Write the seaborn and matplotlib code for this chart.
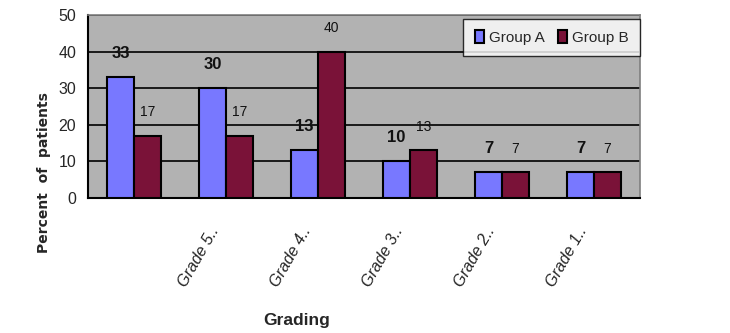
import matplotlib
matplotlib.use("Agg")
import matplotlib.pyplot as plt
import matplotlib.transforms as mtransforms
import seaborn as sns
import pandas as pd

categories = ["", "Grade 5..", "Grade 4..", "Grade 3..", "Grade 2..", "Grade 1.."]
group_a = [33, 30, 13, 10, 7, 7]
group_b = [17, 17, 40, 13, 7, 7]
series_names = ["Group A", "Group B"]
colors = ["#7878FF", "#7A1238"]

sns.set_style("white")
plt.rcParams['font.family'] = ['Liberation Sans Narrow', 'Liberation Sans', 'DejaVu Sans']

df = pd.DataFrame({
    "cat": list(range(len(categories))) * 2,
    "val": group_a + group_b,
    "grp": [series_names[0]] * len(categories) + [series_names[1]] * len(categories),
})

fig = plt.figure(figsize=(7.3, 3.33), dpi=100)
ax = fig.add_axes([88 / 730, 1 - 198 / 333, (640 - 88) / 730, (198 - 15) / 333])
ax.set_facecolor("#B2B2B2")

sns.barplot(data=df, x="cat", y="val", hue="grp", palette=colors, width=0.58,
            edgecolor="black", linewidth=1.5, ax=ax, zorder=3, saturation=1)

ax.set_ylim(0, 50)
ax.set_xlim(-0.5, len(categories) - 0.5)
ax.set_yticks(range(0, 51, 10))
ax.yaxis.grid(True, color="black", linewidth=1.2, zorder=0)
ax.set_axisbelow(True)

# value labels
for container, small in zip(ax.containers, [False, True]):
    for bar in container:
        h = bar.get_height()
        ax.text(bar.get_x() + bar.get_width() / 2, h + 4.5, f"{int(h)}",
                ha="center", va="bottom",
                fontsize=10 if small else 12,
                fontweight="normal" if small else "bold", color="#111111")

# ticks
ax.set_xticks(range(len(categories)))
ax.set_xticklabels(categories, rotation=60, ha="right", rotation_mode="anchor",
                   fontstyle="italic", fontsize=11.5)
ax.set_xticks([i - 0.5 for i in range(len(categories) + 1)], minor=True)
ax.tick_params(axis="x", which="major", length=0, pad=19)
ax.tick_params(axis="x", which="minor", length=5, width=1, color="black", direction="out")
ax.tick_params(axis="y", length=5, width=1, color="black", direction="out", labelsize=11.5)
offset = mtransforms.ScaledTranslation(-0.17, 0, fig.dpi_scale_trans)
for lbl in ax.get_xticklabels():
    lbl.set_transform(lbl.get_transform() + offset)

for s in ["left", "bottom"]:
    ax.spines[s].set_color("black")
    ax.spines[s].set_linewidth(1.5)
for s in ["top", "right"]:
    ax.spines[s].set_color("#7F7F7F")
    ax.spines[s].set_linewidth(1.2)

ax.set_xlabel("")
ax.set_ylabel("Percent  of  patients", fontsize=10, fontweight="bold",
              family=["DejaVu Sans"])
ax.yaxis.set_label_coords(-0.067, 0.14)

fig.text(297 / 730, 1 - 320 / 333, "Grading", ha="center", va="center",
         fontsize=12.5, fontweight="bold")

leg = ax.legend(loc="upper right", bbox_to_anchor=(1.0, 0.98), ncol=2,
                frameon=True, fancybox=False, edgecolor="black", fontsize=11,
                handlelength=0.6, handleheight=0.9, columnspacing=0.9,
                handletextpad=0.3, borderpad=0.75, borderaxespad=0)
leg.get_frame().set_facecolor("white")
leg.get_frame().set_linewidth(1.0)

fig.savefig("out.png", dpi=100)
